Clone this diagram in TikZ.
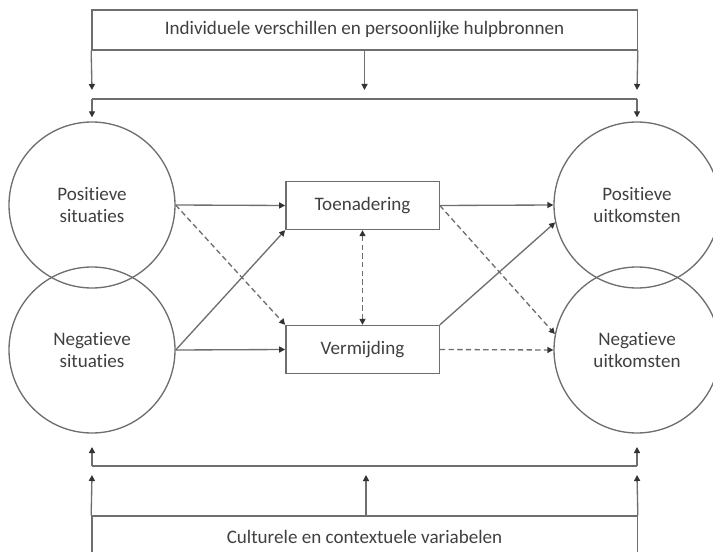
\documentclass[tikz,border=0pt]{standalone}
\usepackage{fontspec}
\setmainfont{Carlito}[Ligatures=NoCommon]
\usetikzlibrary{arrows.meta, positioning}
\definecolor{modline}{HTML}{6E6E6E}
\definecolor{modtext}{HTML}{404040}
\tikzset{
  >={Triangle[length=4.5pt, width=4.5pt, color=black!80]},
  factor/.style = {draw=modline, line width=1pt, text=modtext, font=\fontsize{14.3}{18}\selectfont,
                   minimum width=409pt, minimum height=30pt, inner sep=0pt},
  cirkel/.style = {circle, draw=modline, line width=1pt, text=modtext, align=center,
                   font=\fontsize{14.3}{17}\selectfont, minimum size=124.5pt, inner sep=0pt},
  proces/.style = {draw=modline, line width=1pt, text=modtext, font=\fontsize{14.3}{18}\selectfont,
                   minimum width=115pt, minimum height=36pt, inner sep=0pt},
  lijn/.style   = {draw=modline, line width=1pt},
  flow/.style   = {lijn, ->},
  dflow/.style  = {flow, dash pattern=on 4pt off 2.5pt},
}

\begin{document}
\begin{tikzpicture}[x=0.75pt, y=-0.75pt]
  \clip (0,0) rectangle (713,552);
  % factoren boven en onder
  \node[factor] (ind) at (364.5,30) {Individuele verschillen en persoonlijke hulpbronnen};
  \node[factor, minimum height=31.5pt] (cult) at (364.5,537) {Culturele en contextuele variabelen};
  % situaties en uitkomsten
  \node[cirkel] (ps) at (92,205) {Positieve\\situaties};
  \node[cirkel] (ns) at (92,350) {Negatieve\\situaties};
  \node[cirkel] (pu) at (637,205) {Positieve\\uitkomsten};
  \node[cirkel] (nu) at (637,350) {Negatieve\\uitkomsten};
  % coping
  \node[proces] (toe) at (362.5,205.5) {Toenadering};
  \node[proces] (ver) at (362.5,349.5) {Vermijding};

  % hulplijnen
  \coordinate (tl) at (92,99);
  \coordinate (tr) at (637,99);
  \coordinate (bl) at (92,466);
  \coordinate (br) at (637,466);
  \coordinate (a1) at (92,90);
  \coordinate (a2) at (364.5,90);
  \coordinate (a3) at (637,90);
  \coordinate (b1) at (92,475);
  \coordinate (b2) at (366,475);
  \coordinate (b3) at (637,475);

  \draw[flow] (ind.south west) -- (a1);
  \draw[flow] (ind.south) -- (a2);
  \draw[flow] (ind.south east) -- (a3);
  \draw[lijn] (tl) -- (tr);
  \draw[flow, shorten >=3pt] (tl) -- (ps.north);
  \draw[flow, shorten >=3pt] (tr) -- (pu.north);

  \draw[flow] (cult.north west) -- (b1);
  \draw[flow] (cult.north -| b2) -- (b2);
  \draw[flow] (cult.north east) -- (b3);
  \draw[lijn] (bl) -- (br);
  \draw[flow, shorten >=10pt] (bl) -- (ns.south);
  \draw[flow, shorten >=10pt] (br) -- (nu.south);

  % paden
  \draw[flow] (ps.east) -- (toe.west);
  \draw[dflow] (ps.east) -- (ver.north west);
  \draw[flow] (ns.east) -- (toe.south west);
  \draw[flow] (ns.east) -- (ver.west);
  \draw[dflow, <->] (toe.south) -- (ver.north);
  \draw[flow] (toe.east) -- (pu.west);
  \draw[dflow] (toe.east) -- (nu.169);
  \draw[flow] (ver.north east) -- (pu.192);
  \draw[dflow] (ver.east) -- (nu.west);
\end{tikzpicture}
\end{document}
